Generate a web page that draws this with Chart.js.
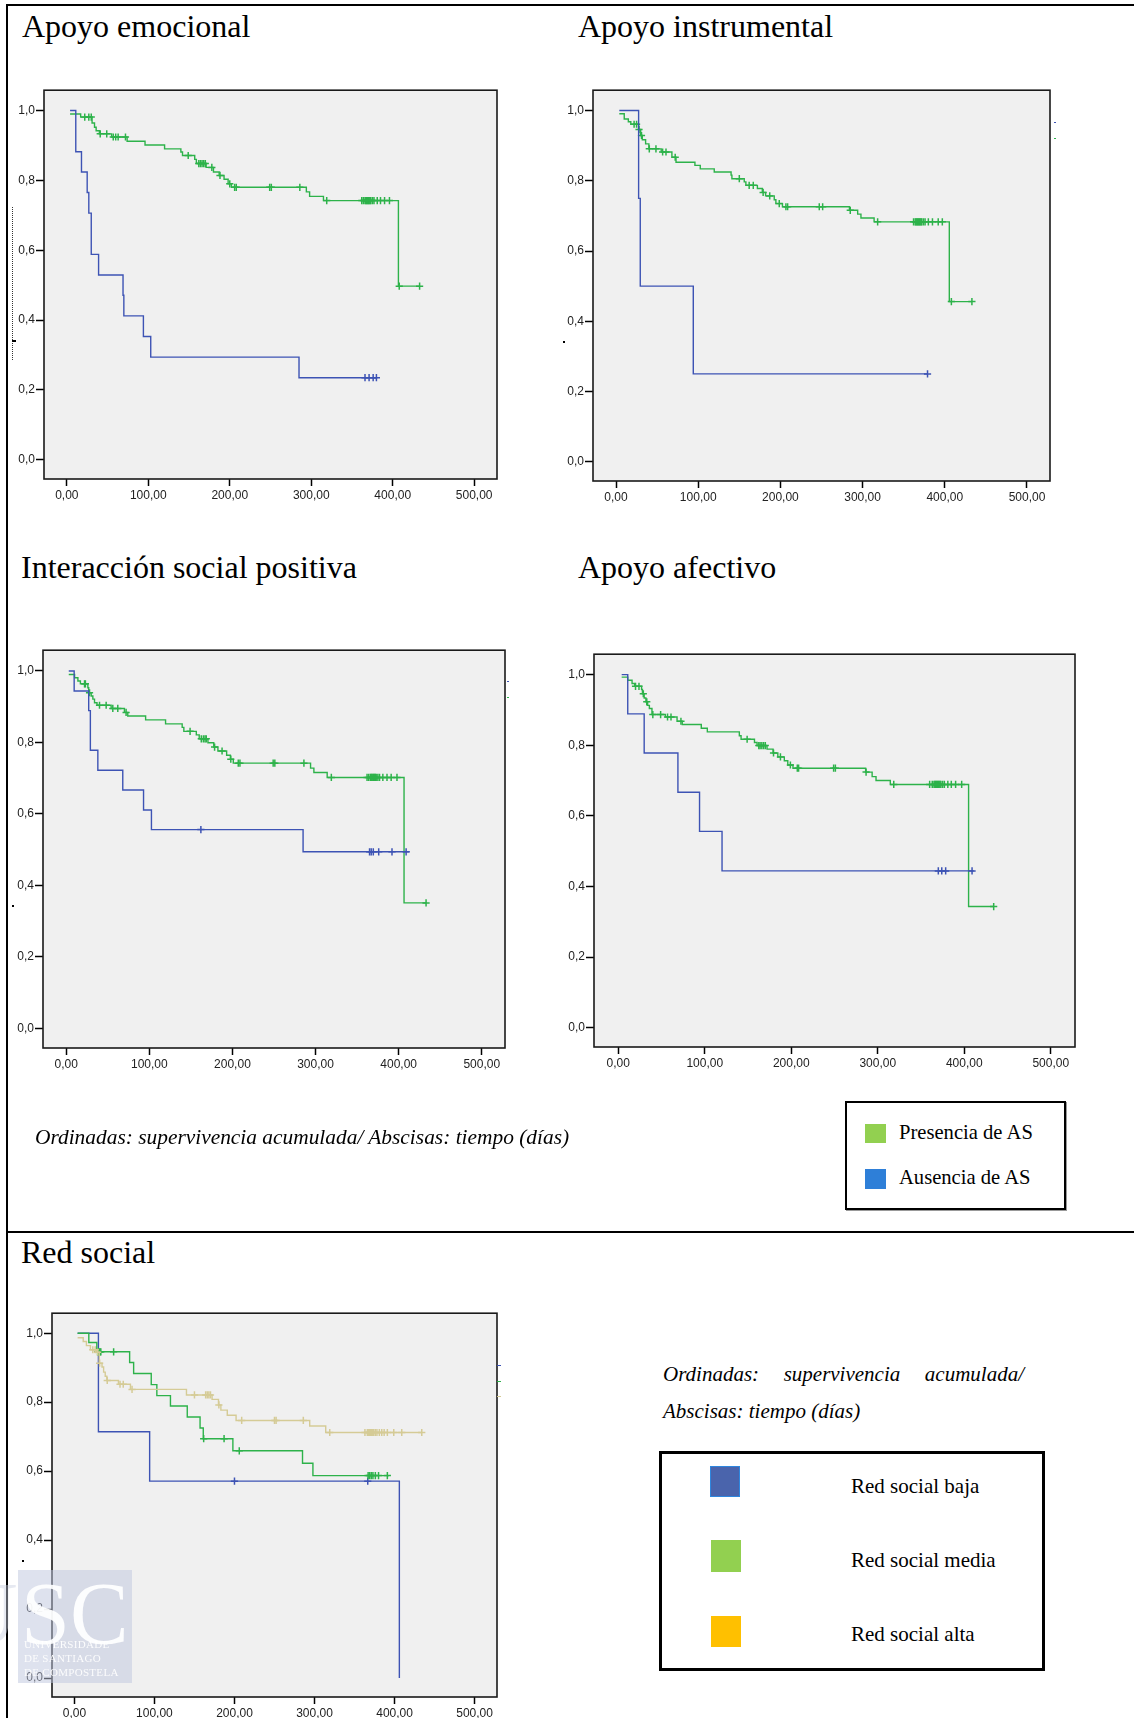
<!DOCTYPE html>
<html lang="es">
<head>
<meta charset="utf-8">
<title>Supervivencia acumulada según apoyo social</title>
<script src="https://cdn.jsdelivr.net/npm/chart.js@4.4.1/dist/chart.umd.min.js"></script>
<style>
  body { margin: 0; background: #fff; }
  #page { position: relative; width: 1134px; height: 1718px; overflow: hidden; font-family: "Liberation Serif", "Times New Roman", serif; color: #000; }
  .rule { position: absolute; background: #000; }
  .title { position: absolute; font-size: 32px; line-height: 32px; white-space: nowrap; }
  .cap { position: absolute; font-size: 21px; line-height: 21px; font-style: italic; white-space: nowrap; }
  .leg { position: absolute; box-sizing: border-box; border: 2px solid #000; background: #fff; }
  .sw { position: absolute; box-sizing: border-box; }
  .lt { position: absolute; font-size: 21px; line-height: 21px; white-space: nowrap; }
  .dot { position: absolute; }
  canvas { position: absolute; }
  #wm { position: absolute; left: 18px; top: 1570px; width: 114px; height: 113px; background: rgba(190, 198, 222, 0.5); overflow: hidden; }
  #wm .big { position: absolute; left: 3px; top: 0px; font-size: 88px; line-height: 88px; color: rgba(255,255,255,0.92); }
  #wm .small { position: absolute; left: 6px; font-size: 11px; line-height: 11px; color: rgba(255,255,255,0.92); letter-spacing: 0.3px; }
  #wmU { position: absolute; left: 0; top: 1570px; width: 18px; height: 80px; overflow: hidden; }
  #wmU span { position: absolute; left: -46px; top: 0; font-size: 88px; line-height: 88px; color: rgba(200, 206, 224, 0.45); }
</style>
</head>
<body>
<div id="page">
  <div class="rule" style="left:6px; top:4px; width:1128px; height:2px;"></div>
  <div class="rule" style="left:6px; top:4px; width:2px; height:1714px;"></div>
  <div class="rule" style="left:6px; top:1231px; width:1128px; height:2px;"></div>

  <div class="title" style="left:22px; top:10px;">Apoyo emocional</div>
  <div class="title" style="left:578px; top:10px;">Apoyo instrumental</div>
  <div class="title" style="left:21px; top:551px;">Interacción social positiva</div>
  <div class="title" style="left:578px; top:551px;">Apoyo afectivo</div>
  <div class="title" style="left:21px; top:1236px;">Red social</div>

  <canvas id="c1"></canvas>
  <canvas id="c2"></canvas>
  <canvas id="c3"></canvas>
  <canvas id="c4"></canvas>
  <canvas id="c5"></canvas>

  <!-- small stray marks of the original scan -->
  <div class="dot" style="left:12px; top:207px; width:0; height:153px; border-left:1px dotted #333;"></div>
  <div class="dot" style="left:12px; top:340px; width:4px; height:2px; background:#000;"></div>
  <div class="dot" style="left:563px; top:341px; width:2px; height:2px; background:#000;"></div>
  <div class="dot" style="left:12px; top:905px; width:2px; height:2px; background:#000;"></div>
  <div class="dot" style="left:22px; top:1560px; width:2px; height:2px; background:#000;"></div>
  <div class="dot" style="left:1054px; top:122px; width:2px; height:1px; background:#3d53b4;"></div>
  <div class="dot" style="left:1054px; top:138px; width:2px; height:1px; background:#2db24a;"></div>
  <div class="dot" style="left:507px; top:681px; width:2px; height:1px; background:#3d53b4;"></div>
  <div class="dot" style="left:507px; top:697px; width:2px; height:1px; background:#2db24a;"></div>
  <div class="dot" style="left:497px; top:1365px; width:4px; height:1px; background:#3d53b4;"></div>
  <div class="dot" style="left:497px; top:1381px; width:4px; height:1px; background:#2db24a;"></div>
  <div class="dot" style="left:497px; top:1396px; width:4px; height:1px; background:#d5cb96;"></div>

  <div class="cap" style="left:35px; top:1127px; font-size:21.4px;">Ordinadas: supervivencia acumulada/ Abscisas: tiempo (días)</div>
  <div class="leg" style="left:845px; top:1101px; width:221px; height:109px; box-shadow:1px 1px 0 #999;"></div>
  <div class="sw" style="left:865px; top:1124px; width:21px; height:19px; background:#92d050;"></div>
  <div class="lt" style="left:899px; top:1122px; font-size:20.6px;">Presencia de AS</div>
  <div class="sw" style="left:865px; top:1169px; width:21px; height:20px; background:#2e7fd8;"></div>
  <div class="lt" style="left:899px; top:1167px; font-size:20.6px;">Ausencia de AS</div>

  <div class="cap" style="left:663px; top:1364px; width:361px; text-align:justify; text-align-last:justify;">Ordinadas: supervivencia acumulada/</div>
  <div class="cap" style="left:663px; top:1401px;">Abscisas: tiempo (días)</div>
  <div class="leg" style="left:659px; top:1451px; width:386px; height:220px; border-width:3px;"></div>
  <div class="sw" style="left:710px; top:1466px; width:30px; height:31px; background:#4a64ac; border:1px solid #2e86de;"></div>
  <div class="lt" style="left:851px; top:1476px;">Red social baja</div>
  <div class="sw" style="left:711px; top:1540px; width:30px; height:32px; background:#92d050;"></div>
  <div class="lt" style="left:851px; top:1550px;">Red social media</div>
  <div class="sw" style="left:711px; top:1616px; width:30px; height:31px; background:#ffc000;"></div>
  <div class="lt" style="left:851px; top:1624px;">Red social alta</div>

  <div id="wmU"><span>U</span></div>
  <div id="wm">
    <div class="big">SC</div>
    <div class="small" style="top:69px;">UNIVERSIDADE</div>
    <div class="small" style="top:83px;">DE SANTIAGO</div>
    <div class="small" style="top:97px;">DE COMPOSTELA</div>
  </div>
</div>

<script>
// axes
const xTicks = [0, 100, 200, 300, 400, 500];
const yTicks = [0, 0.2, 0.4, 0.6, 0.8, 1.0];
const xRange = [-28, 528];
const yRange = [-0.055, 1.058];

// Apoyo emocional
const emoAusT = [4, 11, 18, 25, 27, 30, 39, 69, 70, 94, 103, 285];
const emoAusS = [1.000, 0.882, 0.824, 0.765, 0.706, 0.588, 0.529, 0.471, 0.412, 0.353, 0.294, 0.235];
const emoAusC = [366, 371, 376, 380];
const emoPresT = [4, 17, 31, 34, 36, 40, 55, 74, 96, 120, 140, 142, 157, 159, 171, 180, 187, 193, 198, 202, 294, 298, 315, 407];
const emoPresS = [0.990, 0.981, 0.964, 0.952, 0.942, 0.933, 0.924, 0.912, 0.901, 0.890, 0.881, 0.871, 0.860, 0.848, 0.837, 0.824, 0.814, 0.803, 0.790, 0.780, 0.767, 0.754, 0.742, 0.497];
const emoPresC = [22, 27, 30, 41, 49, 57, 60, 63, 72, 149, 162, 164, 166, 168, 170, 178, 188, 200, 206, 208, 249, 251, 286, 319,
  362, 364, 366, 367, 368, 369, 370, 371, 372, 373, 375, 377, 381, 385, 390, 396, 408, 433];

// Apoyo instrumental
const insAusT = [4, 27.5, 29.5, 94];
const insAusS = [1.000, 0.750, 0.500, 0.250];
const insAusC = [379];
const insPresT = [4, 10, 15, 18, 27.5, 30, 32, 36, 40, 55, 68, 73, 96, 102.5, 119.5, 140, 141, 156, 158, 172, 178, 182, 192.5, 194.5, 202.5, 284, 294, 298, 314, 405.5];
const insPresS = [0.991, 0.976, 0.968, 0.961, 0.946, 0.929, 0.917, 0.905, 0.891, 0.882, 0.867, 0.853, 0.844, 0.834, 0.825, 0.816, 0.806, 0.797, 0.787, 0.778, 0.767, 0.757, 0.746, 0.735, 0.726, 0.716, 0.705, 0.694, 0.683, 0.456];
const insPresC = [22, 25, 28, 31, 40.5, 48.6, 56.7, 60.8, 72, 150, 162, 167, 179, 187, 198.6, 206.7, 208.8, 247.3, 251.4, 285, 318.3,
  362, 364, 365, 366, 367, 368, 369, 370, 371, 372, 374, 376, 380, 385, 392, 397, 408, 433];

// Interacción social positiva
const intAusT = [3, 9.5, 27, 29, 38, 68, 93, 102.5, 285];
const intAusS = [1.000, 0.944, 0.889, 0.778, 0.722, 0.667, 0.611, 0.556, 0.494];
const intAusC = [162, 365, 367, 369.5, 376, 392, 409];
const intPresT = [3, 10, 14, 17, 26, 27, 30, 32, 34, 37, 54, 70, 74, 95.5, 119.5, 139.5, 141.5, 156.5, 160, 170.5, 177.5, 182.5, 193, 197.5, 201, 294, 298, 314, 406.5];
const intPresS = [0.990, 0.981, 0.972, 0.964, 0.953, 0.939, 0.930, 0.921, 0.911, 0.904, 0.895, 0.884, 0.874, 0.863, 0.852, 0.842, 0.831, 0.821, 0.810, 0.799, 0.787, 0.776, 0.764, 0.753, 0.742, 0.728, 0.716, 0.702, 0.351];
const intPresC = [22, 23, 28, 40, 48, 56, 62, 72, 149, 162.5, 165, 167, 168.5, 178.5, 187.5, 198, 207, 209, 249, 251, 286, 319,
  362, 364, 366, 367, 368, 369, 370, 371, 372, 373, 375, 377, 381, 386, 391, 398, 433];

// Apoyo afectivo
const afeAusT = [4, 11, 30, 69, 94, 120];
const afeAusS = [1.000, 0.889, 0.778, 0.667, 0.556, 0.444];
const afeAusC = [370, 374, 378.5, 409];
const afePresT = [4, 11, 16, 19, 27, 28, 30, 32, 34, 36, 39, 54.5, 68, 74, 96, 103, 140, 142, 157.5, 160.5, 172, 179, 184.5, 192, 196, 202, 286, 293.5, 298, 314.5, 405];
const afePresS = [0.993, 0.984, 0.975, 0.967, 0.958, 0.946, 0.934, 0.923, 0.913, 0.904, 0.887, 0.880, 0.868, 0.859, 0.848, 0.838, 0.827, 0.817, 0.808, 0.799, 0.789, 0.778, 0.767, 0.756, 0.744, 0.735, 0.724, 0.711, 0.700, 0.689, 0.343];
const afePresC = [20, 24, 29, 33, 40, 49, 57, 61, 72.5, 149, 162.5, 164, 166, 168, 170, 179.5, 187.5, 199, 207, 208.5, 249, 251, 286.5, 318.5,
  360, 363, 365, 366, 367, 368, 369, 370, 371, 372, 373, 375, 377, 381, 385, 390, 397, 434];

// Red social
const redBajaT = [4, 30, 94, 406];
const redBajaS = [1.000, 0.714, 0.571, 0.000];
const redBajaC = [200, 366.5];
const redMediaT = [4, 18, 28, 69, 74, 96, 103, 120, 141, 157, 161, 198, 285, 298];
const redMediaS = [1.000, 0.973, 0.946, 0.915, 0.883, 0.851, 0.819, 0.789, 0.757, 0.725, 0.694, 0.659, 0.623, 0.587];
const redMediaC = [29, 30, 31, 32, 33, 49, 161.5, 187, 206, 367, 369, 371, 373, 376, 380, 391];
const redAltaT = [4, 11, 15, 20, 28, 31, 34.5, 36.5, 38.5, 40.5, 55, 70, 140, 172, 180, 183, 191, 202, 294, 314];
const redAltaS = [0.987, 0.976, 0.964, 0.952, 0.945, 0.913, 0.902, 0.887, 0.875, 0.863, 0.852, 0.837, 0.821, 0.808, 0.792, 0.777, 0.762, 0.747, 0.731, 0.712];
const redAltaC = [23, 26, 29, 31.5, 41, 57, 61, 72, 150, 164, 166, 168, 170, 180.5, 209, 250, 252, 286, 319,
  363, 366, 367, 368, 369, 370, 371, 372, 373, 374, 376, 378, 381, 384, 387, 391, 399, 409, 434];

// last follow-up time of each curve
const emoAusEnd = 381, emoPresEnd = 433;
const insAusEnd = 379, insPresEnd = 433;
const intAusEnd = 413, intPresEnd = 433;
const afeAusEnd = 411, afePresEnd = 434;
const redBajaEnd = 406, redMediaEnd = 393, redAltaEnd = 434;

const BLUE = '#3d53b4', GREEN = '#2db24a', TAN = '#d5cb96';

function stepAt(times, surv, t) {
    let s = surv[0];
    for (let i = 0; i < times.length; i++) {
        if (times[i] <= t) s = surv[i];
    }
    return s;
}

function curve(times, surv, end) {
    let pts = times.map((t, i) => ({x: t, y: surv[i]}));
    if (end > times[times.length - 1]) pts.push({x: end, y: surv[surv.length - 1]});
    return pts;
}

function censors(times, surv, cens) {
    return cens.map(t => ({x: t, y: stepAt(times, surv, t)}));
}

const framePlugin = {
    id: 'frame',
    beforeDraw(chart) {
        const a = chart.chartArea, ctx = chart.ctx;
        ctx.save();
        ctx.fillStyle = '#f0f0f0';
        ctx.fillRect(a.left, a.top, a.right - a.left, a.bottom - a.top);
        ctx.restore();
    },
    afterDraw(chart) {
        const a = chart.chartArea, ctx = chart.ctx;
        ctx.save();
        ctx.strokeStyle = '#1a1a1a';
        ctx.lineWidth = 1.6;
        ctx.strokeRect(a.left, a.top, a.right - a.left, a.bottom - a.top);
        ctx.restore();
    }
};

function kmChart(id, box, groups) {
    const yw = 40, xh = 30, pt = 6, pr = 8;
    const cv = document.getElementById(id);
    cv.width = box.w + yw + pr;
    cv.height = box.h + pt + xh;
    cv.style.width = cv.width + 'px';
    cv.style.height = cv.height + 'px';
    cv.style.left = (box.l - yw) + 'px';
    cv.style.top = (box.t - pt) + 'px';

    let datasets = [];
    groups.forEach(g => {
        datasets.push({
            data: curve(g.t, g.s, g.end),
            borderColor: g.color,
            borderWidth: 1.4,
            pointRadius: 0,
            stepped: true,
            fill: false
        });
        datasets.push({
            data: censors(g.t, g.s, g.c),
            borderColor: g.color,
            backgroundColor: g.color,
            showLine: false,
            pointStyle: 'cross',
            pointRadius: 3.6,
            borderWidth: 1.5
        });
    });

    new Chart(cv, {
        type: 'line',
        data: {datasets: datasets},
        options: {
            responsive: false,
            animation: false,
            layout: {padding: {left: 0, top: pt, right: pr, bottom: 0}},
            plugins: {legend: {display: false}, tooltip: {enabled: false}},
            scales: {
                x: {
                    type: 'linear',
                    min: xRange[0],
                    max: xRange[1],
                    afterBuildTicks: scale => { scale.ticks = xTicks.map(v => ({value: v})); },
                    afterFit: scale => { scale.height = xh; },
                    border: {display: false},
                    grid: {drawOnChartArea: false, drawTicks: true, tickLength: 7, tickWidth: 1.5, tickColor: '#000'},
                    ticks: {
                        padding: 2,
                        maxRotation: 0,
                        color: '#222',
                        font: {family: 'Liberation Sans, Arial, sans-serif', size: 12},
                        callback: v => v.toFixed(2).replace('.', ',')
                    }
                },
                y: {
                    type: 'linear',
                    min: yRange[0],
                    max: yRange[1],
                    afterBuildTicks: scale => { scale.ticks = yTicks.map(v => ({value: v})); },
                    afterFit: scale => { scale.width = yw; },
                    border: {display: false},
                    grid: {drawOnChartArea: false, drawTicks: true, tickLength: 8, tickWidth: 1.5, tickColor: '#000'},
                    ticks: {
                        padding: 1,
                        color: '#222',
                        font: {family: 'Liberation Sans, Arial, sans-serif', size: 12},
                        callback: v => v.toFixed(1).replace('.', ',')
                    }
                }
            }
        },
        plugins: [framePlugin]
    });
}

kmChart('c1', {l: 44, t: 88, w: 453, h: 391}, [
    {t: emoAusT, s: emoAusS, c: emoAusC, end: emoAusEnd, color: BLUE},
    {t: emoPresT, s: emoPresS, c: emoPresC, end: emoPresEnd, color: GREEN}
]);
kmChart('c2', {l: 593, t: 88, w: 457, h: 393}, [
    {t: insAusT, s: insAusS, c: insAusC, end: insAusEnd, color: BLUE},
    {t: insPresT, s: insPresS, c: insPresC, end: insPresEnd, color: GREEN}
]);
kmChart('c3', {l: 43, t: 648, w: 462, h: 400}, [
    {t: intAusT, s: intAusS, c: intAusC, end: intAusEnd, color: BLUE},
    {t: intPresT, s: intPresS, c: intPresC, end: intPresEnd, color: GREEN}
]);
kmChart('c4', {l: 594, t: 652, w: 481, h: 395}, [
    {t: afeAusT, s: afeAusS, c: afeAusC, end: afeAusEnd, color: BLUE},
    {t: afePresT, s: afePresS, c: afePresC, end: afePresEnd, color: GREEN}
]);
kmChart('c5', {l: 52, t: 1311, w: 445, h: 386}, [
    {t: redAltaT, s: redAltaS, c: redAltaC, end: redAltaEnd, color: TAN},
    {t: redMediaT, s: redMediaS, c: redMediaC, end: redMediaEnd, color: GREEN},
    {t: redBajaT, s: redBajaS, c: redBajaC, end: redBajaEnd, color: BLUE}
]);
</script>
</body>
</html>
